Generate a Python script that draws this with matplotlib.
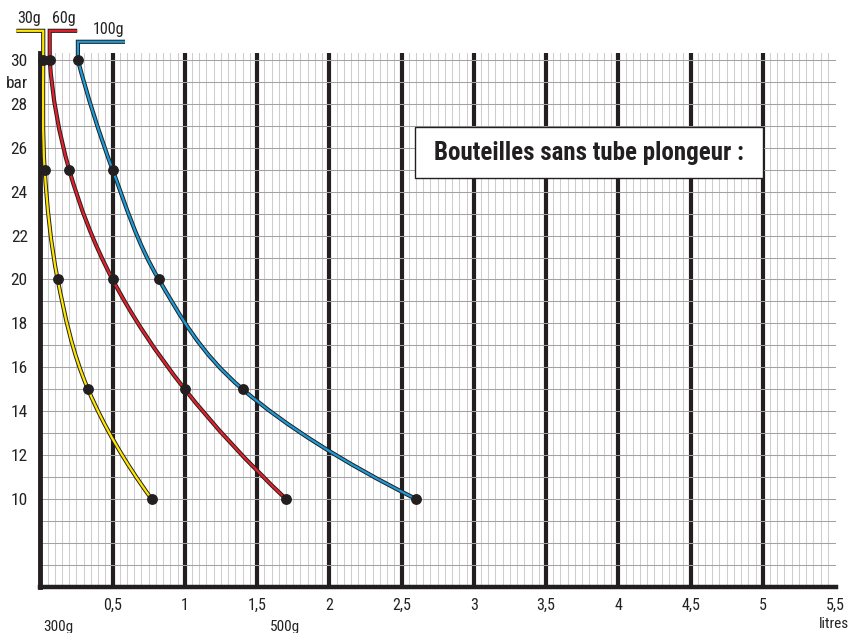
import matplotlib
matplotlib.use("Agg")
import matplotlib.pyplot as plt
import matplotlib.transforms as mtransforms
from matplotlib import font_manager
from matplotlib.path import Path
from matplotlib.patches import PathPatch, Rectangle
import numpy as np

# the original uses a narrow grotesque; take the narrowest family we have
installed = [(f.name, str(f.stretch)) for f in font_manager.fontManager.ttflist]
stretch = "normal"
if any(n == "Liberation Sans Narrow" for n, s in installed):
    family = "Liberation Sans Narrow"
elif any(n == "Roboto Condensed" for n, s in installed):
    family = "Roboto Condensed"
elif any(n == "DejaVu Sans" and "condensed" in s for n, s in installed):
    family, stretch = "DejaVu Sans", "condensed"
else:
    family = "Liberation Sans"
plt.rcParams['font.family'] = [family, 'DejaVu Sans']
plt.rcParams['font.stretch'] = stretch

# data: volume (litres) at each pressure (bar)
pressures = [30, 25, 20, 15, 10]
volume_30g = [0.02, 0.03, 0.12, 0.33, 0.77]
volume_60g = [0.065, 0.20, 0.50, 1.00, 1.70]
volume_100g = [0.26, 0.50, 0.82, 1.40, 2.60]

series_names = ["30g", "60g", "100g"]
series_colors = ["#ffe600", "#e3202b", "#1b9bd7"]
# leader line on top of each curve: end of the horizontal stroke and its height
tag_end_x = [-0.166, 0.255, 0.586]
tag_y = [31.33, 31.33, 30.83]
tag_label_x = [-0.075, 0.165, 0.47]

x_ticks = [0.5, 1, 1.5, 2, 2.5, 3, 3.5, 4, 4.5, 5, 5.5]
x_tick_labels = ["0,5", "1", "1,5", "2", "2,5", "3", "3,5", "4", "4,5", "5", "5,5"]
y_ticks = [10, 12, 14, 16, 18, 20, 22, 24, 26, 28, 29, 30]
y_tick_labels = ["10", "12", "14", "16", "18", "20", "22", "24", "26", "28", "bar", "30"]

weight_notes = ["300g", "500g"]
weight_notes_x = [0.02, 1.586]

INK = "#231f20"


def smooth_path(xs, ys, lead):
    """Straight leader, then a smooth bezier through the measured points."""
    pts = np.column_stack([xs, ys])
    verts = [lead[0], lead[1], pts[0]]
    codes = [Path.MOVETO, Path.LINETO, Path.LINETO]
    n = len(pts)
    tang = [None] * n
    for i in range(1, n - 1):
        tang[i] = (pts[i + 1] - pts[i - 1]) / 2
    # parabolic end conditions keep the hyperbola-like bend at both ends
    for end, nxt, inner in [(0, 1, 1), (n - 1, n - 2, n - 2)]:
        chord = pts[end] - pts[nxt] if end else pts[nxt] - pts[end]
        t = 2 * chord - tang[inner]
        if t[0] * chord[0] < 0:  # don't let the curve swing backwards
            t[0] = 0.0
        tang[end] = t
    for i in range(n - 1):
        verts += [pts[i] + tang[i] / 3, pts[i + 1] - tang[i + 1] / 3, pts[i + 1]]
        codes += [Path.CURVE4] * 3
    return Path(verts, codes)


fig = plt.figure(figsize=(8.51, 6.33), dpi=100)
ax = fig.add_axes([0.0474, 0.073, 0.9355, 0.8433])
ax.set_xlim(0, 5.51)
ax.set_ylim(6, 30.32)

# grid
ax.set_xticks(x_ticks)
ax.set_xticklabels(x_tick_labels, fontsize=11.5)
minor_x = [v for v in np.arange(0.05, 5.46, 0.05) if abs(v / 0.5 - round(v / 0.5)) > 1e-6]
ax.set_xticks(minor_x, minor=True)
ax.set_yticks(y_ticks)
ax.set_yticklabels(y_tick_labels, fontsize=12.5)
ax.set_yticks(np.arange(7, 31), minor=True)
ax.tick_params(which="both", length=0)
ax.tick_params(axis="x", pad=8, colors="#222222")
ax.tick_params(axis="y", pad=9, colors="#222222")

ax.grid(which="minor", axis="x", color="#cdcdcd", lw=0.75)
ax.grid(which="major", axis="x", color=INK, lw=3.0)
ax.grid(which="both", axis="y", color="#a2a2a2", lw=0.75)
ax.get_xgridlines()[-1].set_visible(False)
ax.set_axisbelow(True)

for s in ["top", "right"]:
    ax.spines[s].set_visible(False)
ax.spines["left"].set_linewidth(3.5)
ax.spines["bottom"].set_linewidth(3.2)
ax.spines["left"].set_color(INK)
ax.spines["bottom"].set_color(INK)

# curves
all_volumes = [volume_30g, volume_60g, volume_100g]
for vols, name, color, tx, ty, lx in zip(all_volumes, series_names, series_colors,
                                          tag_end_x, tag_y, tag_label_x):
    path = smooth_path(vols, pressures, [(tx, ty), (vols[0], ty)])
    ax.add_patch(PathPatch(path, fill=False, ec=INK, lw=3.0,
                           capstyle="butt", joinstyle="miter", clip_on=False, zorder=3))
    ax.add_patch(PathPatch(path, fill=False, ec=color, lw=1.6,
                           capstyle="butt", joinstyle="miter", clip_on=False, zorder=4))
    ax.plot(vols, pressures, "o", color=INK, ms=6.8, clip_on=False, zorder=5)
    ax.annotate(name, (lx, ty), xytext=(0, 3.5), textcoords="offset points",
                ha="center", va="bottom", fontsize=11.5, color="#222222",
                annotation_clip=False)

# title box, right edge sits on the 5 litre line
ax.add_patch(Rectangle((2.59, 24.62), 5.0 - 2.59, 26.95 - 24.62, fc="white",
                       ec=INK, lw=1.0, zorder=6))
title = ax.text(3.795, 25.75, "Bouteilles sans tube plongeur :", fontsize=17,
                fontweight="bold", ha="center", va="center", color=INK, zorder=7)
# fit the title to the width it has in the original (about 325 px)
fig.canvas.draw()
w = title.get_window_extent().width
title.set_fontsize(min(18, 17 * 325 / w))

# notes under the axis
trans = mtransforms.blended_transform_factory(ax.transData, ax.transAxes)
for note, nx in zip(weight_notes, weight_notes_x):
    ax.text(nx, -0.075, note, transform=trans, ha="left", va="center",
            fontsize=11, color="#222222")
ax.text(5.49, -0.07, "litres", transform=trans, ha="center", va="center",
        fontsize=11, color="#222222")

fig.savefig("out.png", dpi=100)
